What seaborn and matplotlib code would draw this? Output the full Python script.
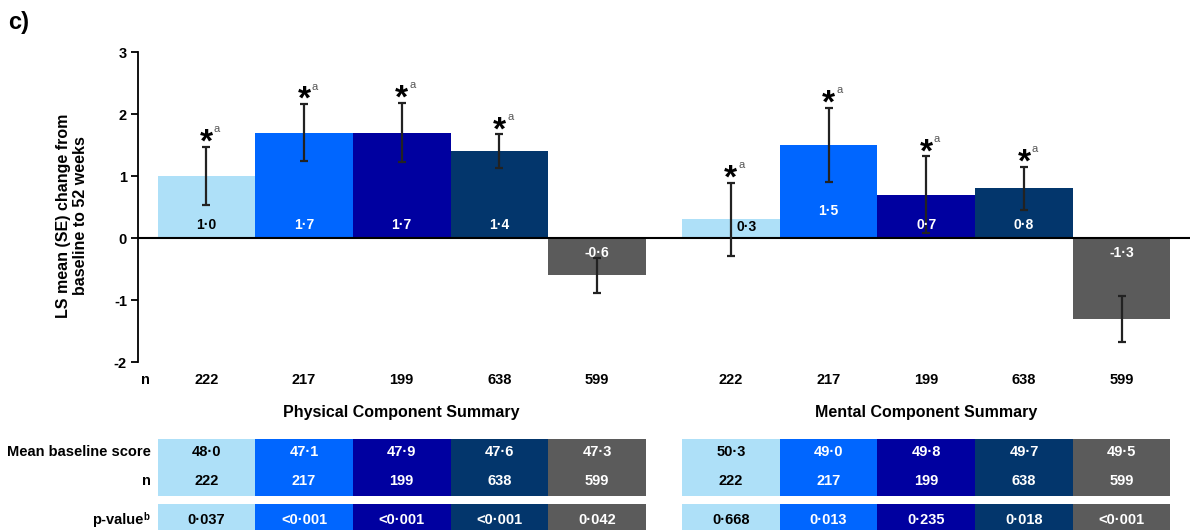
import numpy as np
import pandas as pd
import matplotlib
matplotlib.use("Agg")
import matplotlib.pyplot as plt
import seaborn as sns

# ---- data -------------------------------------------------------------
arms = ["Arm A", "Arm B", "Arm C", "Arm D", "Arm E"]
arm_colors = ["#AEE0F8", "#0066FF", "#0000A0", "#03366C", "#5B5B5B"]
label_colors = ["black", "white", "white", "white", "white"]

pcs_change = [1.0, 1.7, 1.7, 1.4, -0.6]
pcs_se = [0.47, 0.46, 0.48, 0.27, 0.28]
mcs_change = [0.3, 1.5, 0.7, 0.8, -1.3]
mcs_se = [0.59, 0.60, 0.62, 0.35, 0.37]

pcs_sig = [True, True, True, True, False]
mcs_sig = [True, True, True, True, False]

n_patients = [222, 217, 199, 638, 599]
pcs_baseline = [48.0, 47.1, 47.9, 47.6, 47.3]
mcs_baseline = [50.3, 49.0, 49.8, 49.7, 49.5]
pcs_pvalue = ["0·037", "<0·001", "<0·001", "<0·001", "0·042"]
mcs_pvalue = ["0·668", "0·013", "0·235", "0·018", "<0·001"]

group_titles = ["Physical Component Summary", "Mental Component Summary"]
y_ticks = [-2, -1, 0, 1, 2, 3]


def dot(v):
    return f"{v:.1f}".replace(".", "·")


# ---- style ------------------------------------------------------------
sns.set_style("white")
plt.rcParams["font.family"] = ["Liberation Sans", "DejaVu Sans"]
plt.rcParams["font.weight"] = "bold"
plt.rcParams["text.color"] = "black"
plt.rcParams["ytick.color"] = "black"

W, H = 1192, 530
fig = plt.figure(figsize=(W / 100, H / 100), dpi=100)


def fx(px):
    return px / W


def fy(py):
    return 1 - py / H


GAP = 1.37
pcs_x = np.arange(5.0)
mcs_x = np.arange(5.0) + 4 + GAP
xlim = (-0.70, 10.07)

df = pd.DataFrame({
    "pos": np.r_[pcs_x, mcs_x],
    "change": pcs_change + mcs_change,
    "se": pcs_se + mcs_se,
    "sig": pcs_sig + mcs_sig,
    "arm": arms * 2,
})
palette = dict(zip(arms, arm_colors))

FS = 10.5  # body text size

# ---- main bar axes ----------------------------------------------------
ax = fig.add_axes([fx(138), fy(362), fx(1190) - fx(138), fy(52) - fy(362)])
sns.barplot(data=df, x="pos", y="change", hue="arm", hue_order=arms,
            palette=palette, native_scale=True, dodge=False, width=1.0,
            errorbar=None, legend=False, saturation=1, linewidth=0, ax=ax)
ax.errorbar(df["pos"], df["change"], yerr=df["se"], fmt="none",
            ecolor="#222222", elinewidth=1.6, capsize=3, capthick=1.6, zorder=4)
ax.axhline(0, color="black", lw=1.5, zorder=3)

ax.set_xlim(*xlim)
ax.set_ylim(-2, 3)
ax.set_yticks(y_ticks)
ax.set_yticklabels([str(t) for t in y_ticks], fontsize=FS, fontweight="bold")
ax.set_xticks([])
ax.set_xlabel("")
ax.set_ylabel("")
for s in ["top", "right", "bottom"]:
    ax.spines[s].set_visible(False)
ax.spines["left"].set_linewidth(1.3)
ax.spines["left"].set_color("black")
ax.tick_params(axis="y", direction="out", length=5, width=1.3, pad=3,
               colors="black", left=True)

# value labels inside bars
label_shift = {(1, 1): (0.0, 0.23), (1, 0): (0.16, -0.03)}
for g, (xs, vals) in enumerate([(pcs_x, pcs_change), (mcs_x, mcs_change)]):
    for i, (x, v) in enumerate(zip(xs, vals)):
        dx, dy = label_shift.get((g, i), (0.0, 0.0))
        y = (0.21 if v > 0 else -0.24) + dy
        ax.text(x + dx, y, dot(v), ha="center", va="center", fontsize=10,
                fontweight="bold", color=label_colors[i], zorder=5)

# significance markers
for _, r in df.iterrows():
    if not r["sig"]:
        continue
    top = r["change"] + r["se"]
    ax.text(r["pos"], top - 0.08, "*", ha="center", va="baseline",
            fontsize=24, fontweight="bold", color="black", clip_on=False)
    ax.text(r["pos"] + 0.11, top + 0.28, "a", ha="center", va="center",
            fontsize=8, fontweight="normal", color="#555555", clip_on=False)

# n row and group titles below the axis
ax.text(-0.62, -2.29, "n", ha="center", va="center", fontsize=FS,
        fontweight="bold", clip_on=False)
for xs in (pcs_x, mcs_x):
    for x, n in zip(xs, n_patients):
        ax.text(x, -2.29, str(n), ha="center", va="center", fontsize=FS,
                fontweight="bold", clip_on=False)
for xs, title in zip((pcs_x, mcs_x), group_titles):
    ax.text(xs.mean(), -2.81, title, ha="center", va="center", fontsize=11.5,
            fontweight="bold", clip_on=False)

# ---- summary table ----------------------------------------------------
axt = fig.add_axes([fx(138), 0, fx(1190) - fx(138), fy(430)])
axt.set_xlim(*xlim)
axt.set_ylim(0, 100)
axt.axis("off")

for xs, base, pv in ((pcs_x, pcs_baseline, pcs_pvalue),
                     (mcs_x, mcs_baseline, mcs_pvalue)):
    axt.bar(xs, 57, bottom=34, width=1.0, color=arm_colors, linewidth=0)
    axt.bar(xs, 36, bottom=-10, width=1.0, color=arm_colors, linewidth=0,
            clip_on=False)
    for i, x in enumerate(xs):
        c = label_colors[i]
        axt.text(x, 78, dot(base[i]), ha="center", va="center", fontsize=FS,
                 fontweight="bold", color=c)
        axt.text(x, 49, str(n_patients[i]), ha="center", va="center",
                 fontsize=FS, fontweight="bold", color=c)
        axt.text(x, 10, pv[i], ha="center", va="center", fontsize=FS,
                 fontweight="bold", color=c)

fig.text(fx(151), fy(452), "Mean baseline score", ha="right", va="center",
         fontsize=FS, fontweight="bold")
fig.text(fx(151), fy(481), "n", ha="right", va="center", fontsize=FS,
         fontweight="bold")
fig.text(fx(143), fy(520), "p-value", ha="right", va="center", fontsize=FS,
         fontweight="bold")
fig.text(fx(143.5), fy(517), "b", ha="left", va="center", fontsize=7,
         fontweight="bold")

# ---- axis title and panel letter ---------------------------------------
fig.text(fx(72), fy(216), "LS mean (SE) change from\nbaseline to 52 weeks",
         rotation=90, ha="center", va="center", fontsize=11.5,
         fontweight="bold", multialignment="center", linespacing=1.1)
fig.text(fx(8), fy(22), "c)", ha="left", va="center", fontsize=17,
         fontweight="bold")

fig.savefig("out.png", dpi=100)
